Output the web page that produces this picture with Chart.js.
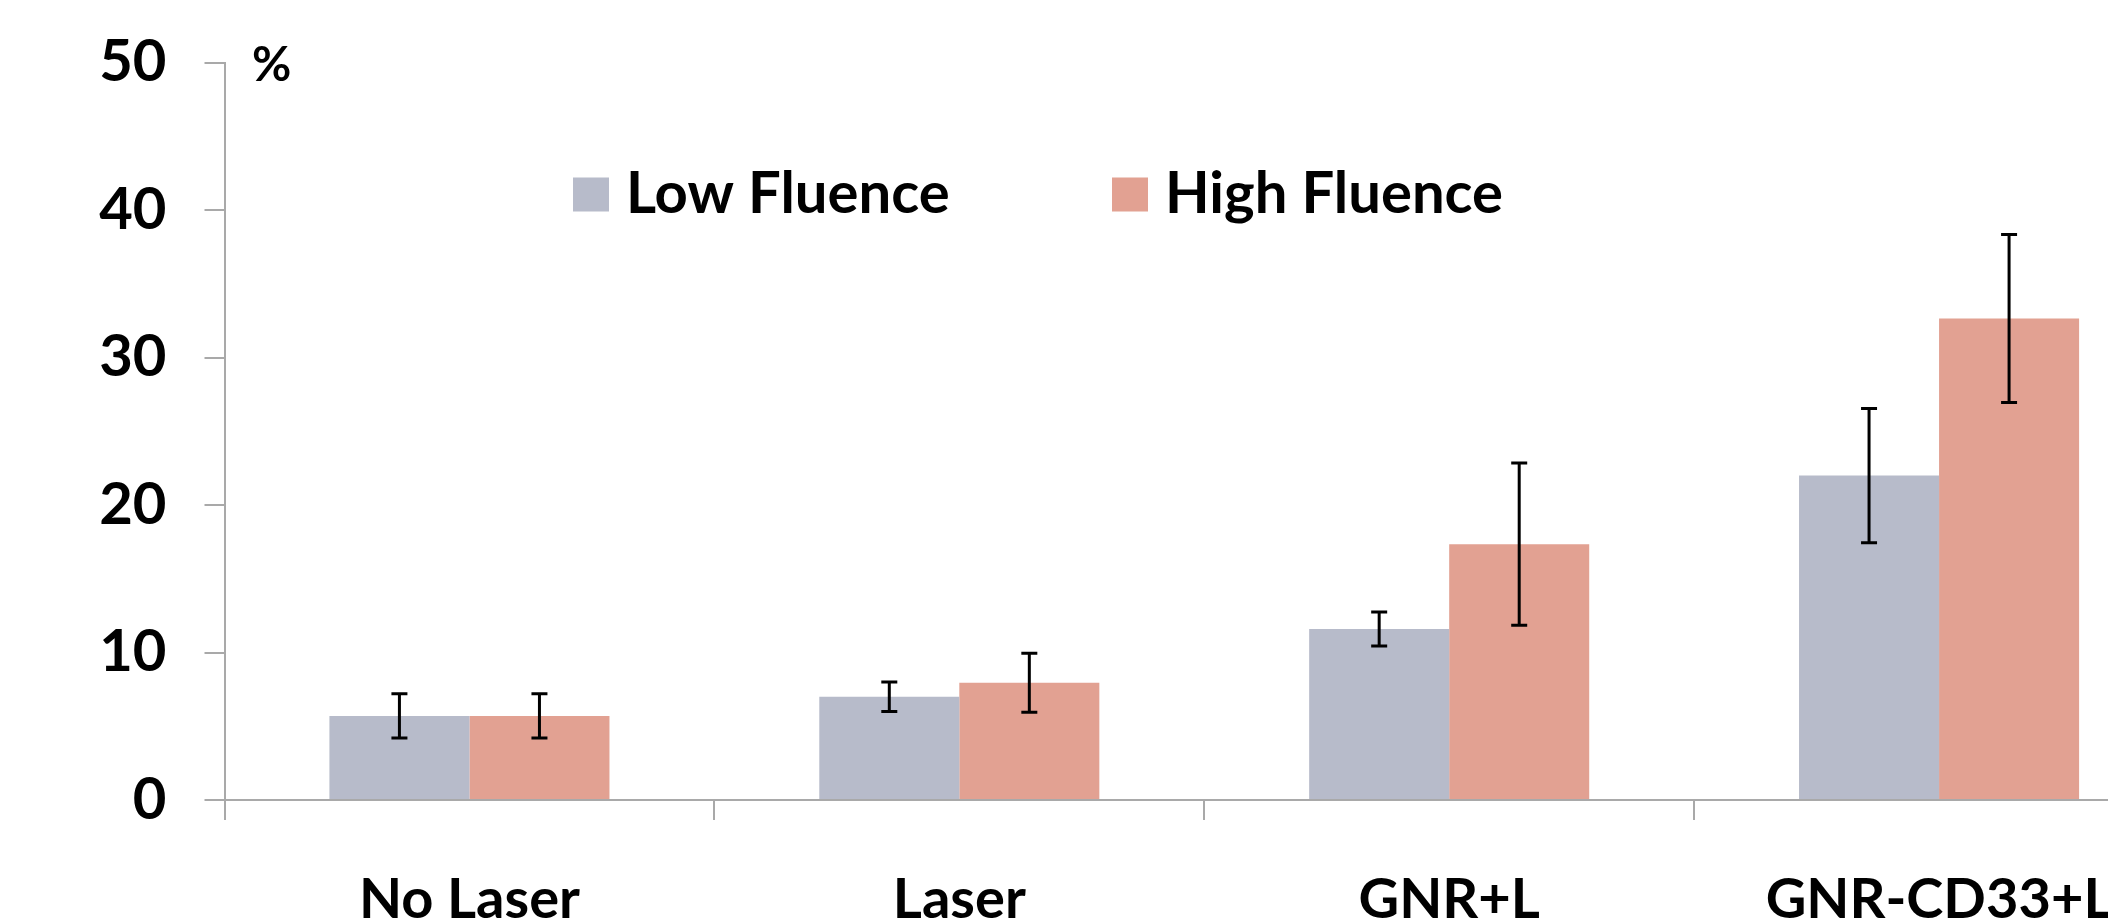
<!DOCTYPE html>
<html>
<head>
<meta charset="utf-8">
<script src="https://cdn.jsdelivr.net/npm/chart.js@4/dist/chart.umd.min.js"></script>
<style>
  html, body { margin: 0; padding: 0; background: #ffffff; overflow: hidden; }
  #wrap { position: absolute; left: 0; top: 0; width: 2184px; height: 960px; }
</style>
</head>
<body>
<div id="wrap"><canvas id="chart" width="2184" height="960"></canvas></div>
<script>
// Treatment groups along the x axis
const categories = ['No Laser', 'Laser', 'GNR+L', 'GNR-CD33+L'];

// Percentage per group, with ± error
const lowFluence = [5.7, 7.0, 11.6, 22.0];
const lowFluenceErr = [1.5, 1.0, 1.15, 4.55];
const highFluence = [5.7, 7.95, 17.35, 32.65];
const highFluenceErr = [1.5, 2.0, 5.5, 5.7];

// Y axis ticks
const yTicks = [0, 10, 20, 30, 40, 50];

const FONT = 'Lato';
const AXIS_COLOR = '#a9a9a9';

// Vertical error bars with caps, drawn from the y scale
const errorBars = {
  id: 'errorBars',
  afterDatasetsDraw(chart) {
    const ctx = chart.ctx;
    const y = chart.scales.y;
    chart.data.datasets.forEach((ds, i) => {
      const meta = chart.getDatasetMeta(i);
      meta.data.forEach((bar, j) => {
        const v = ds.data[j], e = ds.errors[j];
        const top = y.getPixelForValue(v + e);
        const bot = y.getPixelForValue(v - e);
        const cap = 8;
        ctx.save();
        ctx.strokeStyle = '#000000';
        ctx.lineWidth = 3;
        ctx.beginPath();
        ctx.moveTo(bar.x, top); ctx.lineTo(bar.x, bot);
        ctx.moveTo(bar.x - cap, top); ctx.lineTo(bar.x + cap, top);
        ctx.moveTo(bar.x - cap, bot); ctx.lineTo(bar.x + cap, bot);
        ctx.stroke();
        ctx.restore();
      });
    });
  }
};

// Legend inside the plot and the "%" unit label
const annotations = {
  id: 'annotations',
  afterDraw(chart) {
    const ctx = chart.ctx;
    ctx.save();
    ctx.fillStyle = '#000000';
    ctx.font = `bold 48px ${FONT}`;
    ctx.textAlign = 'left';
    ctx.textBaseline = 'alphabetic';
    ctx.fillText('%', 252, 81);

    const items = [
      { x: 573, ds: chart.data.datasets[0] },
      { x: 1112, ds: chart.data.datasets[1] }
    ];
    ctx.font = `bold 58px ${FONT}`;
    items.forEach(it => {
      ctx.fillStyle = it.ds.backgroundColor;
      ctx.fillRect(it.x, 177.5, 36, 34);
      ctx.fillStyle = '#000000';
      ctx.fillText(it.ds.label, it.x + 53, 212.5);
    });
    ctx.restore();
  }
};

new Chart(document.getElementById('chart'), {
  type: 'bar',
  data: {
    labels: categories,
    datasets: [
      {
        label: 'Low Fluence',
        data: lowFluence,
        errors: lowFluenceErr,
        backgroundColor: '#b7bbca',
        borderWidth: 0,
        categoryPercentage: 0.5717,
        barPercentage: 1.0
      },
      {
        label: 'High Fluence',
        data: highFluence,
        errors: highFluenceErr,
        backgroundColor: '#e2a192',
        borderWidth: 0,
        categoryPercentage: 0.5717,
        barPercentage: 1.0
      }
    ]
  },
  options: {
    responsive: false,
    animation: false,
    devicePixelRatio: 1,
    layout: { padding: { top: 62.7, left: 0, right: 0, bottom: 0 } },
    plugins: {
      legend: { display: false },
      tooltip: { enabled: false }
    },
    scales: {
      x: {
        grid: {
          offset: true,
          drawOnChartArea: false,
          drawTicks: true,
          tickLength: 20,
          color: AXIS_COLOR,
          lineWidth: 2
        },
        border: { display: true, color: AXIS_COLOR, width: 2 },
        ticks: {
          color: '#000000',
          font: { family: FONT, size: 56, weight: 'bold' },
          padding: 46,
          maxRotation: 0,
          autoSkip: false
        },
        afterFit(scale) { scale.height = 160; }
      },
      y: {
        min: 0,
        max: 50,
        afterBuildTicks(scale) { scale.ticks = yTicks.map(v => ({ value: v })); },
        grid: {
          drawOnChartArea: false,
          drawTicks: true,
          tickLength: 20,
          color: AXIS_COLOR,
          lineWidth: 2
        },
        border: { display: true, color: AXIS_COLOR, width: 2 },
        ticks: {
          color: '#000000',
          font: { family: FONT, size: 58, weight: 'bold', lineHeight: 0.5 },
          padding: 38
        },
        afterFit(scale) { scale.width = 224.5; }
      }
    }
  },
  plugins: [errorBars, annotations]
});
</script>
</body>
</html>
